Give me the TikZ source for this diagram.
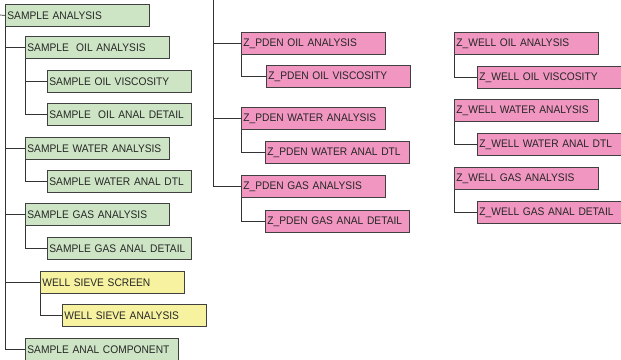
\documentclass[tikz,border=0pt]{standalone}
\usepackage{fontspec}
\setmainfont[FakeStretch=0.93]{Liberation Sans}
\definecolor{boxgreen}{RGB}{205,229,197}
\definecolor{boxpink}{RGB}{240,150,192}
\definecolor{boxyellow}{RGB}{247,242,160}
\begin{document}
\begin{tikzpicture}[x=1pt, y=-1pt,
  box/.style={draw=black!75, line width=0.8pt, anchor=north west, text width=140pt, inner xsep=2pt, inner ysep=0pt, minimum height=22pt, align=left, text=black!85, font=\fontsize{11}{13}\selectfont},
  grnbox/.style={box, fill=boxgreen},
  pnkbox/.style={box, fill=boxpink},
  ylwbox/.style={box, fill=boxyellow},
  link/.style={draw=black!80, line width=0.7pt}]
\useasboundingbox (0,0) rectangle (621,359);
% sample tree
\node [grnbox] (root) at (5,4) {SAMPLE ANALYSIS};
\node [grnbox] (oil) at (25,36) {SAMPLE\ \ OIL ANALYSIS};
\node [grnbox] (oilvisc) at (47,70) {SAMPLE OIL VISCOSITY};
\node [grnbox] (oildet) at (47,103) {SAMPLE\ \ OIL ANAL DETAIL};
\node [grnbox] (water) at (25,137) {SAMPLE WATER ANALYSIS};
\node [grnbox] (waterdtl) at (47,170) {SAMPLE WATER ANAL DTL};
\node [grnbox] (gas) at (25,203) {SAMPLE GAS ANALYSIS};
\node [grnbox] (gasdet) at (47,237) {SAMPLE GAS ANAL DETAIL};
\node [ylwbox] (sieve) at (40,271) {WELL SIEVE SCREEN};
\node [ylwbox] (sieveana) at (62,304) {WELL SIEVE ANALYSIS};
\node [grnbox, text width=149pt] (comp) at (25,338) {SAMPLE ANAL COMPONENT};
\coordinate (up) at (0,15);
\draw [link] (up) -- (root.west);
\draw [link] (root.south west) |- (oil.west);
\draw [link] (root.south west) |- (water.west);
\draw [link] (root.south west) |- (gas.west);
\draw [link] (root.south west) |- (sieve.west);
\draw [link] (root.south west) |- (comp.west);
\draw [link] (oil.south west) |- (oilvisc.west);
\draw [link] (oil.south west) |- (oildet.west);
\draw [link] (water.south west) |- (waterdtl.west);
\draw [link] (gas.south west) |- (gasdet.west);
\draw [link] (sieve.south west) |- (sieveana.west);
% z_pden tree
\coordinate (ztop) at (213,0);
\node [pnkbox] (pdoil) at (241,32) {Z\_PDEN OIL ANALYSIS};
\node [pnkbox] (pdvisc) at (266,65) {Z\_PDEN OIL VISCOSITY};
\node [pnkbox] (pdwater) at (241,107) {Z\_PDEN WATER ANALYSIS};
\node [pnkbox] (pdwdtl) at (265,141) {Z\_PDEN WATER ANAL DTL};
\node [pnkbox] (pdgas) at (241,175) {Z\_PDEN GAS ANALYSIS};
\node [pnkbox] (pdgdet) at (265,210) {Z\_PDEN GAS ANAL DETAIL};
\draw [link] (ztop) |- (pdoil.west);
\draw [link] (ztop) |- (pdwater.west);
\draw [link] (ztop) |- (pdgas.west);
\draw [link] (pdoil.south west) |- (pdvisc.west);
\draw [link] (pdwater.south west) |- (pdwdtl.west);
\draw [link] (pdgas.south west) |- (pdgdet.west);
% z_well tree
\node [pnkbox] (wloil) at (454,32) {Z\_WELL OIL ANALYSIS};
\node [pnkbox] (wlvisc) at (477,66) {Z\_WELL OIL VISCOSITY};
\node [pnkbox] (wlwater) at (454,99) {Z\_WELL WATER ANALYSIS};
\node [pnkbox] (wlwdtl) at (477,133) {Z\_WELL WATER ANAL DTL};
\node [pnkbox] (wlgas) at (454,167) {Z\_WELL GAS ANALYSIS};
\node [pnkbox] (wlgdet) at (477,201) {Z\_WELL GAS ANAL DETAIL};
\draw [link] (wloil.south west) |- (wlvisc.west);
\draw [link] (wlwater.south west) |- (wlwdtl.west);
\draw [link] (wlgas.south west) |- (wlgdet.west);
\end{tikzpicture}
\end{document}
